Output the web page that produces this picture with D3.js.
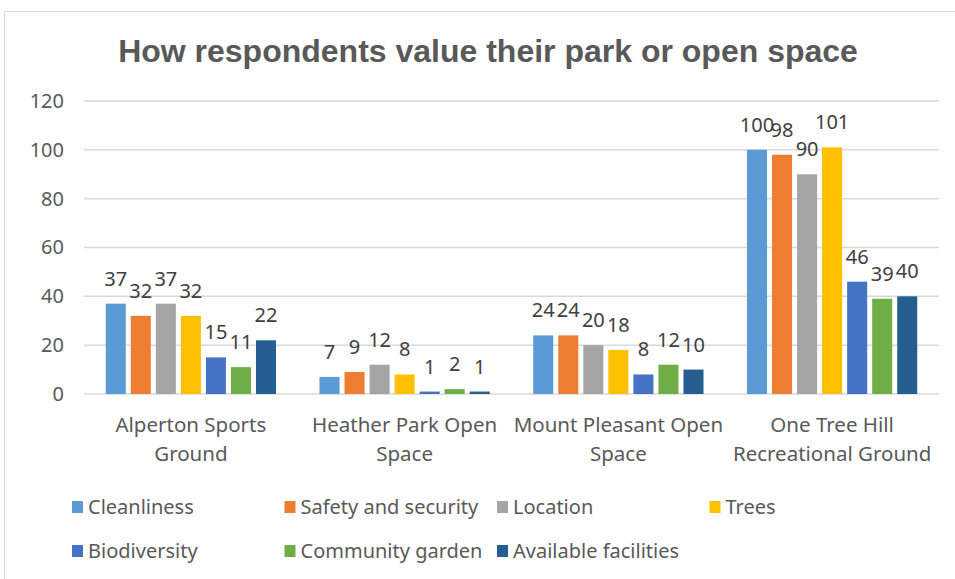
<!DOCTYPE html>
<html>
<head>
<meta charset="utf-8">
<script src="https://cdn.jsdelivr.net/npm/d3@7"></script>
<style>
  body { margin: 0; background: #fff; }
  text { font-family: "Noto Sans", "Open Sans", sans-serif; }
</style>
</head>
<body>
<div id="chart"></div>
<script>
var svg_width = 955;
var svg_height = 579;

// Chart data
var parks = ["Alperton Sports Ground", "Heather Park Open Space", "Mount Pleasant Open Space", "One Tree Hill Recreational Ground"];
var parkLines = [["Alperton Sports", "Ground"], ["Heather Park Open", "Space"], ["Mount Pleasant Open", "Space"], ["One Tree Hill", "Recreational Ground"]];
var seriesNames = ["Cleanliness", "Safety and security", "Location", "Trees", "Biodiversity", "Community garden", "Available facilities"];
var seriesColors = ["#5B9BD5", "#ED7D31", "#A5A5A5", "#FFC000", "#4472C4", "#70AD47", "#255E91"];
var cleanliness = [37, 7, 24, 100];
var safety = [32, 9, 24, 98];
var locationVals = [37, 12, 20, 90];
var trees = [32, 8, 18, 101];
var biodiversity = [15, 1, 8, 46];
var communityGarden = [11, 2, 12, 39];
var facilities = [22, 1, 10, 40];
var yTicks = [0, 20, 40, 60, 80, 100, 120];

var seriesValues = [cleanliness, safety, locationVals, trees, biodiversity, communityGarden, facilities];

var margin = { top: 101, right: 16, bottom: 185, left: 84 };
var width = svg_width - margin.left - margin.right;
var height = svg_height - margin.top - margin.bottom;

var svg = d3.select("#chart")
  .append("svg")
  .attr("width", svg_width)
  .attr("height", svg_height);

// outer chart border
svg.append("rect")
  .attr("x", 4.5).attr("y", 11.5)
  .attr("width", 1000).attr("height", 700)
  .attr("fill", "none")
  .attr("stroke", "#d9d9d9");

// Title
svg.append("text")
  .attr("x", 488)
  .attr("y", 62)
  .attr("text-anchor", "middle")
  .attr("fill", "#595959")
  .style("font-family", "'Liberation Sans', Arial, sans-serif")
  .style("font-weight", "bold")
  .style("font-size", "32px")
  .text("How respondents value their park or open space");

var g = svg.append("g")
  .attr("transform", `translate(${margin.left}, ${margin.top})`);

// Scales
var x0 = d3.scaleBand().domain(parks).range([0, width]);
var x1 = d3.scaleBand().domain(seriesNames)
  .range([x0.bandwidth() * 0.09, x0.bandwidth() * 0.91])
  .paddingInner(0.2).paddingOuter(0.1);
var y = d3.scaleLinear().domain([0, 120]).range([height, 0]);

// Gridlines
g.selectAll(".grid")
  .data(yTicks)
  .enter().append("line")
  .attr("x1", 0).attr("x2", width)
  .attr("y1", d => y(d)).attr("y2", d => y(d))
  .attr("stroke", "#d9d9d9")
  .attr("stroke-width", 1.5);

// Y axis
var left_axis = d3.axisLeft(y).tickValues(yTicks).tickSize(0).tickPadding(20);
var yAxis = g.append("g").call(left_axis);
yAxis.select(".domain").remove();
yAxis.selectAll("text")
  .attr("fill", "#595959")
  .style("font-size", "20px")
  .style("font-family", "'Noto Sans', sans-serif");

// Bars
var groups = g.selectAll(".park")
  .data(parks)
  .enter().append("g")
  .attr("transform", d => `translate(${x0(d)},0)`);

var rows = function(i) {
  return seriesNames.map((s, j) => ({ series: s, value: seriesValues[j][i], color: seriesColors[j] }));
};

groups.selectAll("rect")
  .data((d, i) => rows(i))
  .enter().append("rect")
  .attr("x", d => x1(d.series))
  .attr("y", d => y(d.value))
  .attr("width", x1.bandwidth())
  .attr("height", d => height - y(d.value))
  .attr("fill", d => d.color);

groups.selectAll(".lbl")
  .data((d, i) => rows(i))
  .enter().append("text")
  .attr("class", "lbl")
  .attr("x", d => x1(d.series) + x1.bandwidth() / 2)
  .attr("y", d => y(d.value) - 18)
  .attr("text-anchor", "middle")
  .attr("fill", "#404040")
  .style("font-size", "20px")
  .text(d => d.value);

// X axis labels
var xLabels = g.selectAll(".xl")
  .data(parks)
  .enter().append("text")
  .attr("x", d => x0(d) + x0.bandwidth() / 2)
  .attr("y", height + 38)
  .attr("text-anchor", "middle")
  .attr("fill", "#595959")
  .style("font-size", "20.5px");

xLabels.selectAll("tspan")
  .data((d, i) => parkLines[i])
  .enter().append("tspan")
  .attr("x", function() { return d3.select(this.parentNode).attr("x"); })
  .attr("dy", (d, i) => i === 0 ? 0 : 29)
  .text(d => d);

// Legend
var legend = svg.selectAll(".legend")
  .data(seriesNames)
  .enter().append("g")
  .attr("transform", (d, i) => `translate(${72 + (i % 4) * 212.5}, ${507 + Math.floor(i / 4) * 44})`);

legend.append("rect")
  .attr("x", 0).attr("y", -6)
  .attr("width", 11).attr("height", 12)
  .attr("fill", (d, i) => seriesColors[i]);

legend.append("text")
  .attr("x", 16)
  .attr("y", 7)
  .attr("fill", "#595959")
  .style("font-size", "20px")
  .text(d => d);
</script>
</body>
</html>
